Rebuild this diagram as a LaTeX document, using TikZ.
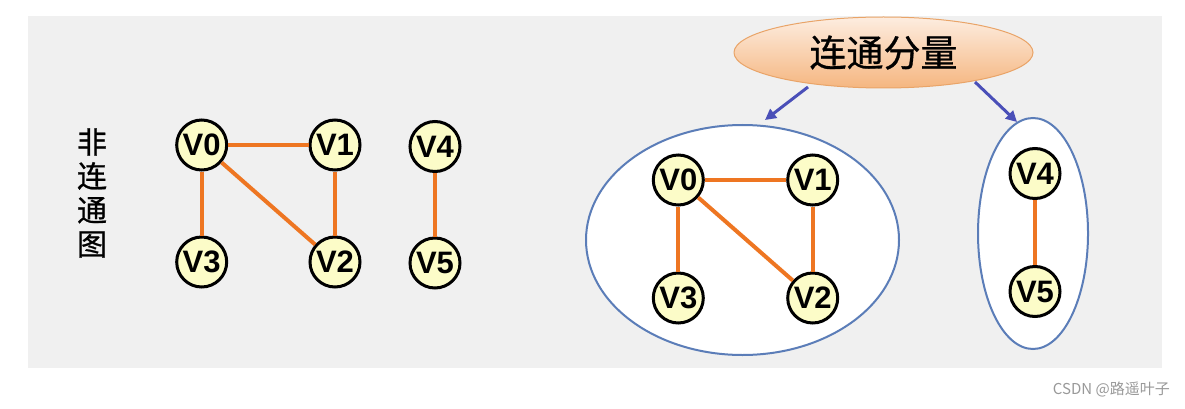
\documentclass[tikz,border=0pt]{standalone}
\usepackage{fontspec}
\setmainfont{Liberation Sans}
\newfontfamily\cjk{Noto Sans CJK SC}
\newfontfamily\cjkh[FakeBold=0.8]{Noto Sans CJK SC}
\usetikzlibrary{shapes.geometric,arrows.meta}
\definecolor{bggray}{HTML}{F0F0F0}
\definecolor{vfill}{HTML}{FCFCC8}
\definecolor{edgeor}{HTML}{EE7622}
\definecolor{ringblue}{HTML}{5B7DB8}
\definecolor{arrblue}{HTML}{4A4FB8}
\definecolor{peachtop}{HTML}{FDEDE0}
\definecolor{peachbot}{HTML}{F5B680}
\definecolor{peachline}{HTML}{E9A468}
\definecolor{wmgray}{HTML}{999999}
\begin{document}
\begin{tikzpicture}[x=1pt,y=-1pt,
  vert/.style={circle, draw=black, line width=3pt, fill=vfill, minimum size=50pt, inner sep=0pt,
    font=\fontsize{31}{31}\selectfont\bfseries},
  link/.style={draw=edgeor, line width=4pt},
  comp/.style={ellipse, draw=ringblue, line width=2pt, fill=white, inner sep=0pt},
  arr/.style={draw=arrblue, line width=3pt, -{Triangle[length=11pt,width=11pt]}}]
\useasboundingbox (0,0) rectangle (1185,409);
\fill[white] (0,0) rectangle (1185,409);
\fill[bggray] (28,16) rectangle (1162,368);

% left: non-connected graph
\node[font=\cjkh\fontsize{30}{34}\selectfont, align=center, inner sep=0pt] (title) at (92,193) {非\\连\\通\\图};
\node[vert] (a0) at (201.7,145) {V0};
\node[vert] (a1) at (335,145) {V1};
\node[vert] (a3) at (201.7,262) {V3};
\node[vert] (a2) at (335,262) {V2};
\node[vert] (a4) at (435,146.5) {V4};
\node[vert] (a5) at (435,263) {V5};
\draw[link] (a0) -- (a1);
\draw[link] (a0) -- (a3);
\draw[link] (a0) -- (a2);
\draw[link] (a1) -- (a2);
\draw[link] (a4) -- (a5);

% right: components
\node[ellipse, minimum width=299pt, minimum height=71pt, inner sep=0pt,
  top color=peachtop, bottom color=peachbot, draw=peachline, line width=1pt,
  font=\cjkh\fontsize{37}{37}\selectfont] (cc) at (883.5,52.5) {连通分量};
\node[comp, minimum width=313pt, minimum height=230pt] (c1) at (742.5,240) {};
\node[comp, minimum width=110pt, minimum height=231pt] (c2) at (1033,233.5) {};
\coordinate (p1s) at (808,87);
\coordinate (p1e) at (765,120);
\coordinate (p2s) at (975,82);
\coordinate (p2e) at (1017,122);
\draw[arr] (p1s) -- (p1e);
\draw[arr] (p2s) -- (p2e);

\node[vert] (b0) at (678.3,180) {V0};
\node[vert] (b1) at (812.7,180) {V1};
\node[vert] (b3) at (678.3,298) {V3};
\node[vert] (b2) at (812.7,298) {V2};
\node[vert] (b4) at (1035,173.5) {V4};
\node[vert] (b5) at (1035,291.5) {V5};
\draw[link] (b0) -- (b1);
\draw[link] (b0) -- (b3);
\draw[link] (b0) -- (b2);
\draw[link] (b1) -- (b2);
\draw[link] (b4) -- (b5);

\node[font=\cjk\fontsize{15}{15}\selectfont, text=wmgray, anchor=east, inner sep=0pt] (wm) at (1170,389) {CSDN @路遥叶子};
\end{tikzpicture}
\end{document}
